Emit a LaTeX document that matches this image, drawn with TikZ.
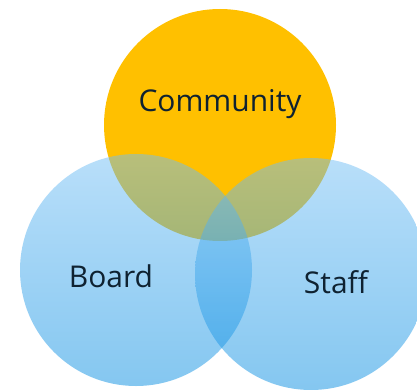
\documentclass[tikz,border=0pt]{standalone}
\usepackage{fontspec}
\setmainfont{Open Sans}
\definecolor{commfill}{HTML}{FFC000}
\definecolor{bluetop}{RGB}{115,191,245}
\definecolor{bluebot}{RGB}{10,143,226}
\definecolor{labeltext}{HTML}{0F2231}
\tikzset{
  setcircle/.style={circle, minimum size=232pt, inner sep=0pt},
  community/.style={setcircle, fill=commfill},
  member/.style={setcircle, top color=bluetop, bottom color=bluebot, fill opacity=0.5},
  setlabel/.style={anchor=base, text=labeltext, font=\fontsize{30}{36}\selectfont, inner sep=0pt}
}
\begin{document}
\begin{tikzpicture}[x=1pt, y=-1pt]
  \useasboundingbox (0,0) rectangle (417,390);
  \clip (0,0) rectangle (417,390);
  % the three overlapping sets
  \node[community] (comm) at (220,125) {};
  \node[member] (board) at (136,270) {};
  \node[member] (staff) at (311,274) {};
  % their names
  \node[setlabel] (commlabel) at (220,112) {Community};
  \node[setlabel] (boardlabel) at (111,287) {Board};
  \node[setlabel] (stafflabel) at (336,293) {Staff};
\end{tikzpicture}
\end{document}
